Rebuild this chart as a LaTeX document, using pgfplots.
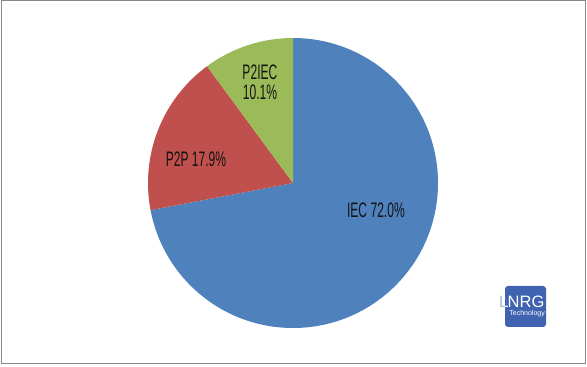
\documentclass[border=0pt]{standalone}
\usepackage{pgfplots}
\pgfplotsset{compat=1.18}
\usepackage{pgfplotstable}
\usepackage{fontspec}
\setmainfont{Liberation Sans}[FakeStretch=0.575]
\newfontfamily\logofont{Liberation Sans}
\definecolor{iec}{HTML}{4F81BD}
\definecolor{ptp}{HTML}{C0504D}
\definecolor{ptiec}{HTML}{9BBB59}
\definecolor{logoblue}{HTML}{3F63B0}
\definecolor{lbl}{HTML}{141414}
\pgfplotstableread{
label value
IEC 72.0
P2P 17.9
P2IEC 10.1
}\piedata
\begin{document}
\begin{tikzpicture}[x=1pt,y=1pt]
\useasboundingbox (0pt,0pt) rectangle (587pt,367pt);
\fill[white] (0pt,0pt) rectangle (587pt,367pt);
\draw[color=black!47,line width=1pt] (1pt,3pt) rectangle (585pt,366pt);
\pgfplotstablegetelem{0}{value}\of\piedata \let\va\pgfplotsretval
\pgfplotstablegetelem{1}{value}\of\piedata \let\vb\pgfplotsretval
\pgfplotstablegetelem{2}{value}\of\piedata \let\vc\pgfplotsretval
\pgfmathsetmacro\aA{90}
\pgfmathsetmacro\aB{90-3.6*\va}
\pgfmathsetmacro\aC{\aB-3.6*\vb}
\pgfmathsetmacro\aD{\aC-3.6*\vc}
\begin{axis}[
  at={(293pt,184pt)}, anchor=center,
  scale only axis, width=290pt, height=290pt,
  xmin=-1, xmax=1, ymin=-1, ymax=1,
  hide axis, clip=false,
]
\addplot[draw=none, forget plot] coordinates {(0,0)};
\fill[iec] (axis cs:0,0) -- (axis cs:{cos(\aA)},{sin(\aA)}) arc[start angle=\aA, end angle=\aB, radius=145pt] -- cycle;
\fill[ptp] (axis cs:0,0) -- (axis cs:{cos(\aB)},{sin(\aB)}) arc[start angle=\aB, end angle=\aC, radius=145pt] -- cycle;
\fill[ptiec] (axis cs:0,0) -- (axis cs:{cos(\aC)},{sin(\aC)}) arc[start angle=\aC, end angle=\aD, radius=145pt] -- cycle;
\node[text=lbl, font=\fontsize{21}{21}\selectfont, inner sep=0pt] at (axis cs:0.572,-0.186) {IEC 72.0\%};
\node[text=lbl, font=\fontsize{21}{21}\selectfont, inner sep=0pt] at (axis cs:-0.669,0.166) {P2P 17.9\%};
\node[text=lbl, font=\fontsize{21}{21}\selectfont, inner sep=0pt, align=center] at (axis cs:-0.228,0.697) {P2IEC\\[-1pt]10.1\%};
\end{axis}
% logo
\fill[logoblue, rounded corners=3pt] (505pt,40pt) rectangle (546pt,81pt);
\node[anchor=base west, inner sep=0pt, text=logoblue!45, font=\logofont\fontsize{16.5}{17}\selectfont] at (499pt,59pt) {L};
\begin{scope}
\clip (505pt,40pt) rectangle (546pt,81pt);
\node[anchor=base west, inner sep=0pt, text=white, font=\logofont\fontsize{16.5}{17}\selectfont] at (499pt,59pt) {L};
\end{scope}
\node[anchor=base west, inner sep=0pt, text=white, font=\logofont\fontsize{16.5}{17}\selectfont] at (507.5pt,59pt) {NRG};
\node[anchor=base east, inner sep=0pt, text=white, font=\logofont\fontsize{7}{8}\selectfont] at (545pt,51pt) {Technology};
\end{tikzpicture}
\end{document}
